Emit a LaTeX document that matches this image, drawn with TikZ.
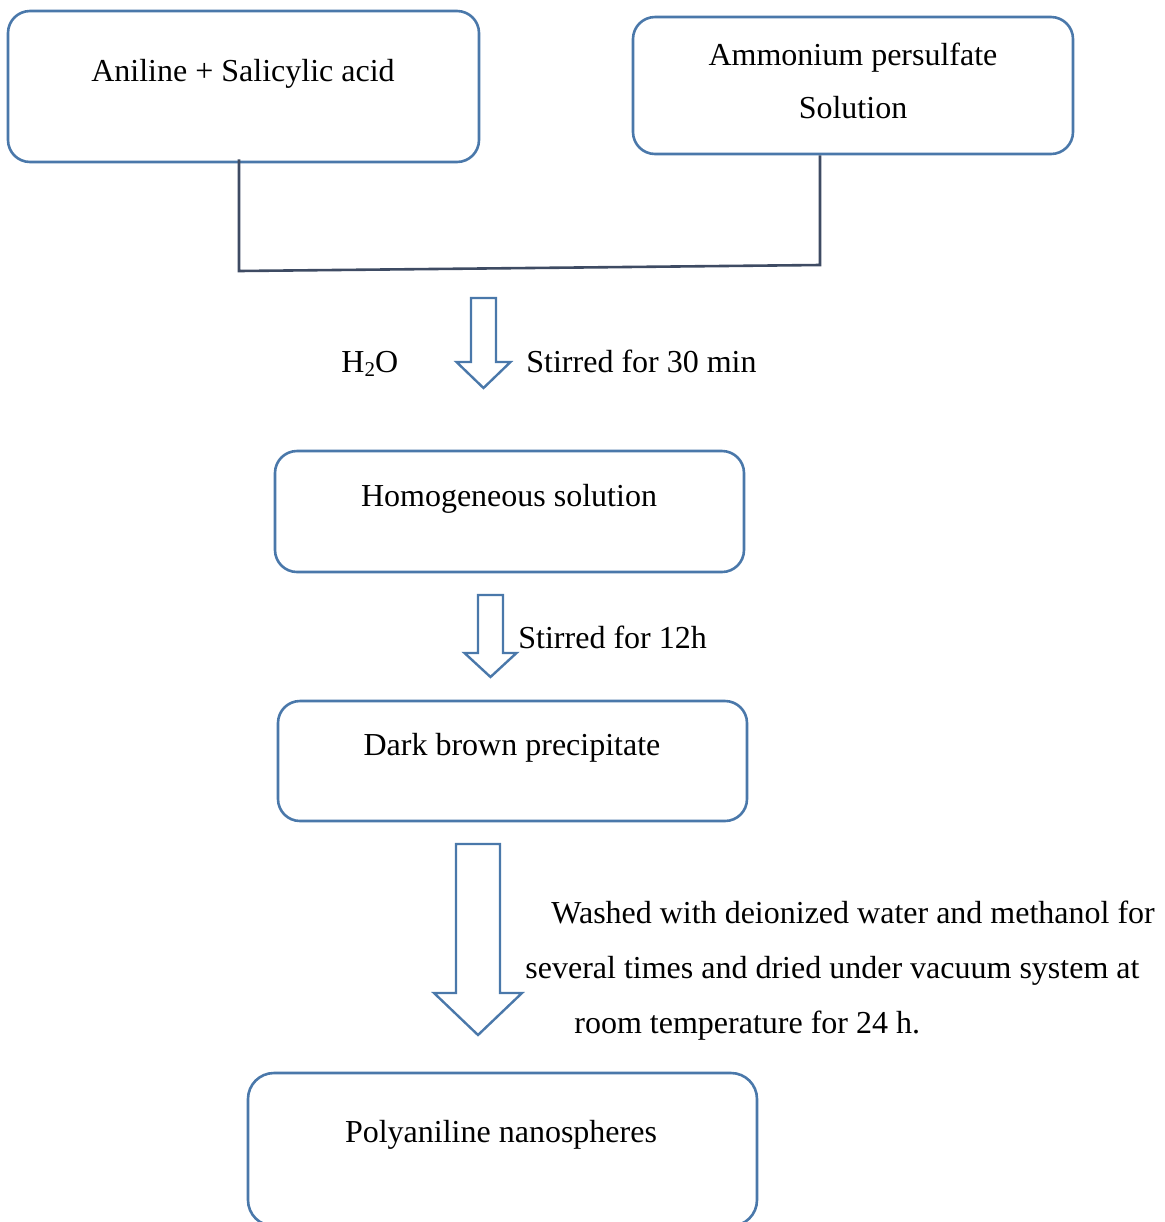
\documentclass[tikz,border=0pt]{standalone}
\usepackage{fontspec}
\setmainfont{Liberation Serif}
\definecolor{boxblue}{RGB}{74,120,170}
\definecolor{linegray}{RGB}{62,75,99}
\newcommand\barrow[6]{% cx, top, shaft half, head y, head half, tip
  \draw[blockarrow] (#1-#3,#2) -- (#1+#3,#2) -- (#1+#3,#4) -- (#1+#5,#4) -- (#1,#6) -- (#1-#5,#4) -- (#1-#3,#4) -- cycle;}
\begin{document}
\begin{tikzpicture}[x=0.5pt,y=-0.5pt,
  box/.style={draw=boxblue, line width=1.3pt, rounded corners=11pt, rectangle, inner sep=0pt},
  conn/.style={draw=linegray, line width=1.3pt},
  blockarrow/.style={draw=boxblue, line width=1.2pt, fill=white, line join=miter},
  txt/.style={anchor=base, inner sep=0pt, font=\fontsize{16pt}{19pt}\selectfont},
  txtl/.style={anchor=base west, inner sep=0pt, font=\fontsize{16pt}{19pt}\selectfont}]
\useasboundingbox (0,0) rectangle (1165,1222);
% boxes
\node[box, minimum width=235.5pt, minimum height=75.5pt] (b1) at (243.5,86.5) {};
\node[box, minimum width=220pt, minimum height=68.5pt] (b2) at (853,85.5) {};
\node[box, minimum width=234.5pt, minimum height=60.5pt] (b3) at (509.5,511.5) {};
\node[box, minimum width=234.5pt, minimum height=60pt] (b4) at (512.5,761) {};
\node[box, minimum width=254.5pt, minimum height=76.5pt, rounded corners=13pt] (b5) at (502.5,1149.5) {};
% box texts
\node[txt] (t1) at (243,81) {Aniline + Salicylic acid};
\node[txt] (t2a) at (853,65) {Ammonium persulfate};
\node[txt] (t2b) at (853,118) {Solution};
\node[txt] (t3) at (509,506) {Homogeneous solution};
\node[txt] (t4) at (512,755) {Dark brown precipitate};
\node[txt] (t5) at (501,1142) {Polyaniline nanospheres};
% connectors
\coordinate (j1) at (239,271);
\coordinate (j2) at (820,265);
\draw[conn] ([yshift=2pt]b1.south -| j1) -- (j1) -- (j2) -- (b2.south -| j2);
% block arrows
\barrow{483.5}{298}{12.5}{362}{27}{388}
\barrow{490.5}{595}{12.5}{653}{26}{677}
\barrow{478}{844}{22}{993}{44}{1035}
% labels
\node[txtl] (h2o) at (341,372) {H\raisebox{-0.3ex}{\fontsize{10.5pt}{12pt}\selectfont 2}O};
\node[txtl] (s30) at (526,372) {Stirred for 30 min};
\node[txtl] (s12) at (518,648) {Stirred for 12h};
\node[txtl] (w1) at (551,923) {Washed with deionized water and methanol for};
\node[txtl] (w2) at (525,978) {several times and dried under vacuum system at};
\node[txtl] (w3) at (574,1033) {room temperature for 24 h.};
\end{tikzpicture}
\end{document}
